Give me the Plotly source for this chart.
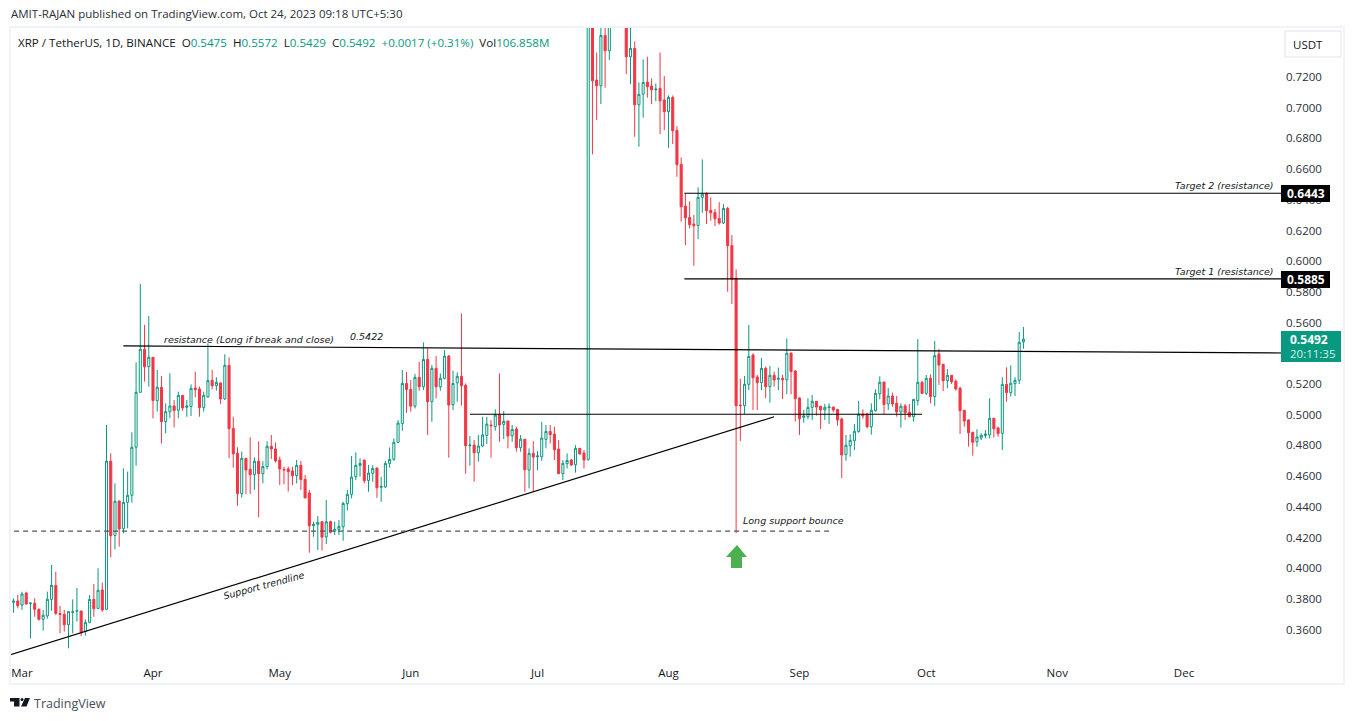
import pandas as pd
import plotly.graph_objects as go

WIDTH, HEIGHT = 1355, 721
LEFT, RIGHT, TOP, BOTTOM = 10, 1285, 27, 660

UP = '#089981'
DOWN = '#f23645'
INK = '#131722'
FRAME = '#f0f3fa'
FONT = 'Open Sans'
DRAW_FONT = 'DejaVu Sans'

# daily candles, first one is Feb 26 2023 (values above 0.7526 are off the chart, rough guesses)
start_date = '2023-02-26'
open_px = [
    .3771, .3778, .3786, .3760, .3838, .3771, .3771, .3732, .3667, .3689,
    .3797, .3888, .3706, .3699, .3632, .3712, .3721, .3721, .3587, .3647,
    .3797, .3738, .3858, .3732, .4697, .4214, .4438, .4258, .4429, .4475,
    .4788, .5146, .5426, .5313, .5374, .5092, .5179, .4955, .5020, .5057,
    .5029, .5126, .5048, .5053, .5174, .5168, .5046, .5116, .5224, .5189,
    .5207, .5103, .5322, .4911, .4749, .4486, .4716, .4644, .4610, .4697,
    .4616, .4662, .4794, .4777, .4705, .4644, .4647, .4634, .4603, .4670,
    .4579, .4490, .4277, .4286, .4303, .4205, .4303, .4242, .4253, .4270,
    .4420, .4481, .4596, .4670, .4705, .4572, .4618, .4653, .4527, .4529,
    .4683, .4709, .4820, .4943, .5204, .5165, .5056, .5243, .5182, .5360,
    .5085, .5302, .5182, .5237, .5382, .5065, .5208, .5250, .5191, .4798,
    .4802, .4752, .4796, .4865, .4933, .4922, .5000, .4937, .4959, .4863,
    .4907, .4785, .4841, .4640, .4748, .4726, .4726, .4839, .4891, .4874,
    .4776, .4616, .4681, .4705, .4674, .4781, .4750, .4709, .8140, .7180,
    .7143, .7471, .7371, .7700, .8000, .7900, .7750, .7332, .7386, .7019,
    .7089, .7167, .7141, .7117, .7126, .7050, .6974, .7067, .6852, .6631,
    .6359, .6285, .6242, .6233, .6416, .6442, .6331, .6318, .6279, .6249,
    .6344, .6103, .5889, .5063, .5059, .5198, .5389, .5246, .5209, .5302,
    .5183, .5257, .5231, .5237, .5228, .5402, .5285, .5109, .4983, .4987,
    .5048, .5087, .5055, .5031, .5046, .5050, .5035, .4972, .4740, .4798,
    .4831, .4890, .5003, .5003, .4922, .5026, .5137, .5213, .5070, .5122,
    .5074, .5018, .5057, .5016, .4987, .5092, .5211, .5139, .5237, .5118,
    .5396, .5328, .5222, .5257, .5218, .5172, .5029, .4966, .4885, .4824,
    .4848, .4864, .4868, .4977, .4914, .4879, .5198, .5144, .5202, .5224,
    .5475,
]
high_px = [
    .3804, .3804, .3825, .3847, .3847, .3775, .3804, .3738, .3728, .3847,
    .4021, .3977, .3754, .3728, .3717, .3797, .3871, .3723, .3667, .3825,
    .3897, .4000, .3906, .4933, .4749, .4553, .4440, .4651, .4629, .4885,
    .5341, .5852, .5585, .5643, .5374, .5292, .5252, .5074, .5270, .5096,
    .5150, .5126, .5096, .5198, .5281, .5183, .5150, .5465, .5292, .5244,
    .5209, .5394, .5374, .4987, .4788, .4760, .4716, .4853, .4723, .4827,
    .4697, .4827, .4868, .4820, .4727, .4662, .4662, .4662, .4705, .4699,
    .4607, .4510, .4303, .4340, .4303, .4445, .4310, .4303, .4314, .4433,
    .4509, .4731, .4755, .4716, .4705, .4672, .4672, .4655, .4596, .4698,
    .4787, .4846, .4965, .5291, .5278, .5226, .5265, .5345, .5471, .5432,
    .5324, .5382, .5269, .5421, .5389, .5287, .5276, .5660, .5204, .4861,
    .4835, .4868, .4987, .4987, .4965, .5035, .5269, .5024, .4959, .4933,
    .4922, .4868, .4841, .4781, .4828, .4763, .4954, .4933, .4933, .4922,
    .4835, .4705, .4748, .4711, .4802, .4781, .4770, .9380, .8500, .7360,
    .7700, .7600, .8000, .8400, .8300, .8100, .7800, .7600, .7432, .7165,
    .7315, .7332, .7191, .7158, .7360, .7206, .7080, .7080, .6880, .6676,
    .6442, .6390, .6301, .6481, .6663, .6448, .6416, .6340, .6385, .6372,
    .6355, .6170, .5947, .5233, .5252, .5585, .5400, .5259, .5370, .5313,
    .5317, .5281, .5307, .5259, .5498, .5404, .5291, .5113, .5031, .5107,
    .5128, .5089, .5057, .5070, .5074, .5052, .5037, .4981, .4868, .4872,
    .4940, .5089, .5035, .5013, .5074, .5165, .5250, .5213, .5174, .5144,
    .5122, .5074, .5070, .5070, .5100, .5493, .5220, .5259, .5263, .5480,
    .5428, .5330, .5298, .5259, .5231, .5183, .5031, .4970, .4890, .4905,
    .4879, .4900, .5107, .4977, .4922, .5244, .5309, .5322, .5244, .5539,
    .5572,
]
low_px = [
    .3760, .3710, .3738, .3728, .3764, .3543, .3684, .3658, .3593, .3671,
    .3723, .3695, .3576, .3587, .3478, .3576, .3652, .3558, .3560, .3641,
    .3684, .3736, .3717, .3728, .4071, .4123, .4141, .4227, .4260, .4427,
    .4668, .5146, .5216, .5183, .4977, .5020, .4812, .4879, .4977, .4918,
    .4977, .5027, .4987, .4992, .5113, .4987, .5020, .5111, .5166, .5157,
    .5070, .5096, .4716, .4655, .4408, .4460, .4484, .4484, .4510, .4332,
    .4553, .4644, .4712, .4688, .4542, .4547, .4499, .4542, .4553, .4510,
    .4456, .4101, .4205, .4119, .4115, .4158, .4227, .4216, .4216, .4179,
    .4375, .4455, .4574, .4596, .4553, .4498, .4563, .4459, .4433, .4524,
    .4655, .4700, .4818, .4896, .5013, .5020, .5041, .5156, .5161, .4868,
    .4954, .5106, .5156, .5230, .4720, .5030, .5085, .5059, .4616, .4668,
    .4563, .4694, .4792, .4809, .4720, .4896, .4824, .4841, .4781, .4824,
    .4759, .4759, .4498, .4520, .4498, .4640, .4700, .4781, .4813, .4705,
    .4613, .4574, .4650, .4668, .4622, .4742, .4650, .4700, .6696, .6920,
    .7024, .7130, .7310, .7600, .7700, .7600, .7219, .7154, .6811, .6746,
    .6935, .7065, .7024, .7043, .6828, .6854, .6739, .6763, .6550, .6257,
    .6105, .6214, .5971, .6144, .6316, .6242, .6264, .6229, .6238, .6242,
    .5801, .5721, .4229, .4829, .5005, .5161, .5031, .5031, .5161, .5107,
    .5079, .5183, .5161, .5102, .5135, .5133, .4955, .4868, .4948, .4970,
    .4966, .4994, .4907, .4966, .4940, .5016, .4929, .4588, .4701, .4727,
    .4770, .4883, .4974, .4911, .4870, .5020, .5100, .5005, .5031, .5052,
    .4987, .4916, .4966, .4983, .4955, .5061, .5135, .5128, .5074, .5057,
    .5194, .5155, .5172, .5200, .5157, .4874, .4922, .4792, .4733, .4792,
    .4835, .4846, .4846, .4851, .4857, .4770, .5085, .5118, .5122, .5200,
    .5429,
]
close_px = [
    .3782, .3786, .3756, .3832, .3767, .3773, .3732, .3667, .3693, .3797,
    .3888, .3706, .3699, .3632, .3717, .3717, .3723, .3580, .3647, .3797,
    .3736, .3856, .3728, .4697, .4212, .4436, .4256, .4429, .4475, .4788,
    .5146, .5426, .5313, .5374, .5092, .5179, .4955, .5020, .5057, .5027,
    .5126, .5044, .5057, .5172, .5163, .5046, .5126, .5222, .5189, .5211,
    .5103, .5322, .4909, .4746, .4486, .4716, .4640, .4610, .4697, .4616,
    .4662, .4794, .4777, .4699, .4647, .4640, .4629, .4603, .4670, .4577,
    .4458, .4277, .4286, .4299, .4203, .4303, .4234, .4253, .4271, .4422,
    .4481, .4594, .4670, .4683, .4570, .4620, .4650, .4524, .4533, .4683,
    .4709, .4820, .4946, .5204, .5165, .5056, .5243, .5182, .5360, .5085,
    .5302, .5182, .5237, .5382, .5063, .5204, .5250, .5189, .4798, .4802,
    .4752, .4796, .4868, .4939, .4928, .4998, .4933, .4957, .4861, .4904,
    .4785, .4841, .4642, .4748, .4724, .4731, .4848, .4891, .4870, .4772,
    .4616, .4683, .4702, .4672, .4781, .4744, .4705, .8140, .7176, .7143,
    .7471, .7371, .7700, .8000, .7900, .7750, .7332, .7386, .7019, .7087,
    .7165, .7137, .7117, .7121, .7045, .6974, .7067, .6850, .6629, .6355,
    .6283, .6238, .6231, .6416, .6437, .6329, .6316, .6277, .6249, .6344,
    .6101, .5882, .5059, .5059, .5198, .5380, .5241, .5209, .5302, .5183,
    .5257, .5226, .5237, .5228, .5400, .5281, .5105, .4974, .4992, .5048,
    .5087, .5050, .5031, .5048, .5050, .5031, .4966, .4738, .4801, .4833,
    .4892, .5003, .4992, .4922, .5029, .5139, .5211, .5066, .5122, .5070,
    .5018, .5055, .5013, .4987, .5100, .5211, .5139, .5237, .5118, .5385,
    .5324, .5222, .5257, .5215, .5168, .5026, .4959, .4883, .4820, .4855,
    .4866, .4874, .4977, .4909, .4877, .5198, .5144, .5205, .5224, .5472,
    .5492,
]

month_ticks = ['2023-03-01', '2023-04-01', '2023-05-01', '2023-06-01', '2023-07-01',
               '2023-08-01', '2023-09-01', '2023-10-01', '2023-11-01', '2023-12-01']
month_labels = ['Mar', 'Apr', 'May', 'Jun', 'Jul', 'Aug', 'Sep', 'Oct', 'Nov', 'Dec']
# 0.54 is hidden behind the last price tag in the original
price_ticks = [.36, .38, .40, .42, .44, .46, .48, .50, .52, .56, .58, .60, .62, .64, .66, .68, .70, .72]

resistance_x = ['2023-03-25', '2023-12-26']
resistance_y = [.5448, .5402]
target1_x = ['2023-08-04 18:00', '2023-12-26']
target1_y = [.5885, .5885]
target2_x = ['2023-08-04 18:00', '2023-12-26']
target2_y = [.6443, .6443]
mid_x = ['2023-06-15', '2023-09-30']
mid_y = [.5003, .5003]
trend_x = ['2023-02-26', '2023-08-26']
trend_y = [.3434, .4987]
support_x = ['2023-02-25', '2023-09-08']
support_y = [.4242, .4242]

dates = pd.date_range(start_date, periods=len(open_px))


def px_x(x):
    return (x - LEFT) / (RIGHT - LEFT)


def px_y(y):
    return (BOTTOM - y) / (BOTTOM - TOP)


def box(x0, y0, x1, y1, fill, line=None):
    return dict(type='rect', xref='paper', yref='paper', x0=px_x(x0), x1=px_x(x1), y0=px_y(y0), y1=px_y(y1),
                fillcolor=fill, line=dict(width=1 if line else 0, color=line or fill), layer='above')


def poly(points, fill):
    path = 'M ' + ' L '.join(f'{px_x(x):.5f},{px_y(y):.5f}' for x, y in points) + ' Z'
    return dict(type='path', xref='paper', yref='paper', path=path, fillcolor=fill, line=dict(width=0), layer='above')


def label(x, y, text, size=12, color=INK, anchor='left', style='normal', family=FONT, angle=0, weight='normal'):
    return dict(xref='paper', yref='paper', x=px_x(x), y=px_y(y), text=text, showarrow=False, xanchor=anchor,
                yanchor='middle', textangle=angle, borderpad=0,
                font=dict(size=size, color=color, style=style, family=family, weight=weight))


def drawn(x, y, text, anchor='left', angle=0):
    return label(x, y, text, size=9.5, style='italic', family=DRAW_FONT, anchor=anchor, angle=angle)


fig = go.Figure()
fig.add_trace(go.Candlestick(x=dates, open=open_px, high=high_px, low=low_px, close=close_px,
                             increasing=dict(line=dict(color=UP, width=1), fillcolor='#ffffff'),
                             decreasing=dict(line=dict(color=DOWN, width=1), fillcolor=DOWN),
                             whiskerwidth=0))

for xs, ys in [(resistance_x, resistance_y), (target1_x, target1_y), (target2_x, target2_y),
               (mid_x, mid_y), (trend_x, trend_y)]:
    fig.add_trace(go.Scatter(x=xs, y=ys, mode='lines', line=dict(color='#000000', width=1.2), hoverinfo='skip'))
fig.add_trace(go.Scatter(x=support_x, y=support_y, mode='lines',
                         line=dict(color='#555555', width=1.2, dash='5px,4px'), hoverinfo='skip'))

shapes = [
    # chart frame
    box(10, 26, 1344, 28, FRAME),
    box(10, 683, 1344, 685, FRAME),
    box(9, 26, 11, 685, FRAME),
    box(1343, 26, 1345, 685, FRAME),
    # USDT button
    dict(type='rect', xref='paper', yref='paper', x0=px_x(1285), x1=px_x(1341), y0=px_y(31), y1=px_y(57),
         fillcolor='#ffffff', line=dict(width=1, color='#e0e3eb'), layer='above'),
    # price tags
    box(1281, 185, 1330, 202, '#000000'),
    box(1281, 271, 1330, 288, '#000000'),
    box(1281, 331, 1341, 362, UP),
    # long entry arrow
    poly([(737, 545), (747, 557), (742, 557), (742, 568), (731, 568), (731, 557), (726, 557)], '#4caf50'),
    # TradingView logo
    poly([(10, 698), (19.5, 698), (19.5, 706.5), (14, 706.5), (14, 701.5), (10, 701.5)], '#131722'),
    poly([(25, 698), (30, 698), (26.5, 706.5), (21, 706.5)], '#131722'),
    dict(type='circle', xref='paper', yref='paper', x0=px_x(20.5), x1=px_x(23.5), y0=px_y(698), y1=px_y(701),
         fillcolor='#131722', line=dict(width=0), layer='above'),
]

header = ('XRP / TetherUS, 1D, BINANCE  '
          f'O<span style="color:{UP}">0.5475</span>  H<span style="color:{UP}">0.5572</span>  '
          f'L<span style="color:{UP}">0.5429</span>  C<span style="color:{UP}">0.5492</span>  '
          f'<span style="color:{UP}">+0.0017 (+0.31%)</span>  Vol<span style="color:{UP}">106.858M</span>')

notes = [
    label(10, 14, 'AMIT-RAJAN published on TradingView.com, Oct 24, 2023 09:18 UTC+5:30', size=11.5, color='#2a2e39'),
    label(17, 42, header, size=11.6),
    label(1308, 44, 'USDT', size=11.5, anchor='center'),
    drawn(163, 339, 'resistance (Long if break and close)'),
    drawn(349, 336, '0.5422'),
    drawn(263, 585, 'Support trendline', anchor='center', angle=-15),
    drawn(742, 520, 'Long support bounce'),
    drawn(1275, 185, 'Target 2 (resistance)', anchor='right'),
    drawn(1275, 271, 'Target 1 (resistance)', anchor='right'),
    label(1305.5, 193.5, '0.6443', size=12, color='#ffffff', anchor='center', weight='bold'),
    label(1305.5, 279.5, '0.5885', size=12, color='#ffffff', anchor='center', weight='bold'),
    label(1289, 339, '0.5492', size=12, color='#ffffff', weight='bold'),
    label(1289, 353.5, '20:11:35', size=11.5, color='#d5efe9'),
    label(33, 703, 'TradingView', size=12.5, color='#4a4e59'),
]

fig.update_layout(
    width=WIDTH, height=HEIGHT, autosize=False,
    margin=dict(l=LEFT, r=WIDTH - RIGHT, t=TOP, b=HEIGHT - BOTTOM, autoexpand=False),
    paper_bgcolor='#ffffff', plot_bgcolor='#ffffff',
    showlegend=False, hovermode=False, boxgap=0.3,
    font=dict(family=FONT, color=INK, size=12),
    shapes=shapes, annotations=notes,
)
fig.update_xaxes(type='date', range=['2023-02-26 03:50', '2023-12-24 21:36'], rangeslider_visible=False,
                 showgrid=False, zeroline=False, showline=False, ticks='', ticklabelstandoff=4,
                 tickmode='array', tickvals=month_ticks, ticktext=month_labels,
                 tickfont=dict(size=11.5, color=INK))
fig.update_yaxes(range=[.3402, .7526], side='right', showgrid=False, zeroline=False, showline=False,
                 ticks='', tickmode='array', tickvals=price_ticks, tickformat='.4f',
                 tickfont=dict(size=11.5, color='#2a2e39'))

fig.write_html('out.html', config={'displayModeBar': False},
               post_script="document.body.style.margin='0';document.body.style.overflow='hidden';")
